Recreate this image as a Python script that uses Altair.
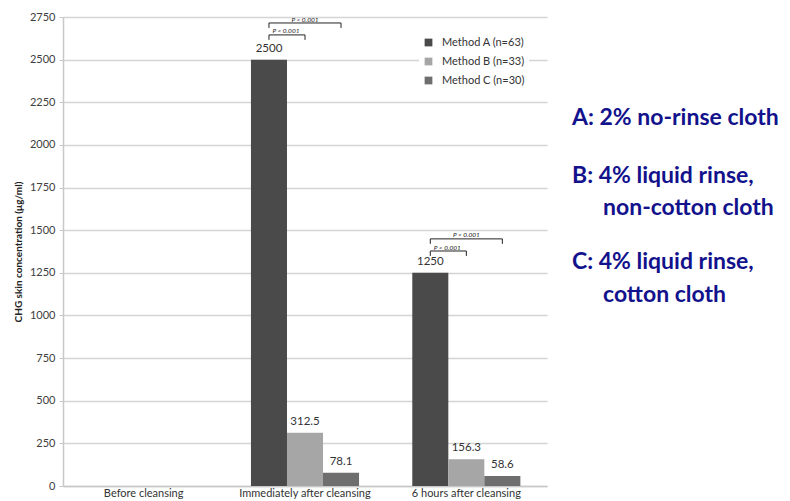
import altair as alt
import pandas as pd

categories = ["Before cleansing", "Immediately after cleansing", "6 hours after cleansing"]
methods = ["Method A (n=63)", "Method B (n=33)", "Method C (n=30)"]
colors = ["#4a4a4a", "#a6a6a6", "#6e6e6e"]
immediate_vals = [2500, 312.5, 78.1]
six_hour_vals = [1250, 156.3, 58.6]
y_ticks = list(range(0, 2751, 250))

# significance brackets: (category, start method, end method, top value, leg value, text value)
brackets = [
    ("Immediately after cleansing", 0, 2, 2715, 2686, 2735),
    ("Immediately after cleansing", 0, 1, 2645, 2616, 2665),
    ("6 hours after cleansing", 0, 2, 1449, 1420, 1469),
    ("6 hours after cleansing", 0, 1, 1378, 1349, 1398),
]
p_text = "P < 0.001"

legend_lines = [
    ("A: 2% no-rinse cloth", 0),
    ("B: 4% liquid rinse,", 0),
    ("non-cotton cloth", 1),
    ("C: 4% liquid rinse,", 0),
    ("cotton cloth", 1),
]

rows = []
for cat, vals in [(categories[1], immediate_vals), (categories[2], six_hour_vals)]:
    for m, v in zip(methods, vals):
        rows.append({"cat": cat, "method": m, "value": v, "label": f"{v:g}"})
df = pd.DataFrame(rows)

brows = []
trows = []
for i, (cat, s, e, top, leg, tv) in enumerate(brackets):
    pts = [(methods[s], leg), (methods[s], top), (methods[e], top), (methods[e], leg)]
    for k, (m, v) in enumerate(pts):
        brows.append({"cat": cat, "method": m, "value": v, "id": i, "ord": k})
    trows.append({"cat": cat, "method": methods[(s + e) // 2] if (s + e) % 2 == 0 else methods[s],
                  "value": tv, "shift": 0 if (s + e) % 2 == 0 else 1, "t": p_text})
bdf = pd.DataFrame(brows)
tdf = pd.DataFrame(trows)

FONT = "Lato"
x_enc = alt.X("cat:N", sort=categories,
              scale=alt.Scale(domain=categories, paddingInner=0.33, paddingOuter=0.165),
              axis=alt.Axis(title=None, labelAngle=0, ticks=False, labelPadding=1,
                            labelFontSize=11, labelColor="#333333", labelFont=FONT,
                            domainColor="#c8c8c8", domainWidth=1.5, grid=False))
xo_enc = alt.XOffset("method:N", sort=methods, scale=alt.Scale(domain=methods))
y_scale = alt.Scale(domain=[0, 2750], nice=False)

bars = alt.Chart(df).mark_bar().encode(
    x=x_enc,
    xOffset=xo_enc,
    y=alt.Y("value:Q", scale=y_scale,
            axis=alt.Axis(values=y_ticks, format="d", title="CHG skin concentration (μg/ml)",
                          titleFontSize=10, titleFont=FONT, titleFontWeight="bold",
                          titleColor="#222222", titlePadding=6,
                          labelFontSize=11, labelFont=FONT, labelColor="#404040",
                          labelPadding=4, tickSize=4, tickColor="#c8c8c8",
                          domainColor="#c8c8c8", domainWidth=1.5,
                          gridColor="#d4d4d4", gridWidth=1.5)),
    color=alt.Color("method:N", sort=methods,
                    scale=alt.Scale(domain=methods, range=colors),
                    legend=alt.Legend(title=None, orient="none", legendX=356, legendY=16,
                                      fillColor="white", padding=4, symbolType="square",
                                      symbolSize=60, symbolStrokeWidth=0, labelFontSize=11,
                                      labelFont=FONT, labelColor="#333333", rowPadding=7,
                                      labelOffset=8)),
)

labels = alt.Chart(df).mark_text(dy=-11, fontSize=11.5, font=FONT, color="#333333").encode(
    x=alt.X("cat:N", sort=categories),
    xOffset=alt.XOffset("method:N", sort=methods),
    y="value:Q",
    text="label:N",
)

bracket_lines = alt.Chart(bdf).mark_line(color="#222222", strokeWidth=1).encode(
    x=alt.X("cat:N", sort=categories),
    xOffset=alt.XOffset("method:N", sort=methods),
    y="value:Q",
    detail="id:N",
    order="ord:Q",
)

ptext_center = alt.Chart(tdf[tdf["shift"] == 0]).mark_text(
    fontSize=6.5, font=FONT, fontStyle="italic", color="#222222").encode(
    x=alt.X("cat:N", sort=categories),
    xOffset=alt.XOffset("method:N", sort=methods),
    y="value:Q", text="t:N")
ptext_shift = alt.Chart(tdf[tdf["shift"] == 1]).mark_text(
    fontSize=6.5, font=FONT, fontStyle="italic", color="#222222", dx=17).encode(
    x=alt.X("cat:N", sort=categories),
    xOffset=alt.XOffset("method:N", sort=methods),
    y="value:Q", text="t:N")

note_layers = []
ys = [101, 159, 191, 245, 278]
for (txt, indent), yy in zip(legend_lines, ys):
    note_layers.append(
        alt.Chart(pd.DataFrame({"t": [txt]})).mark_text(
            align="left", baseline="middle", fontSize=23, font=FONT, fontWeight="bold",
            color="#12128c").encode(
            x=alt.value(509 + 31 * indent), y=alt.value(yy), text="t:N")
    )

chart = alt.layer(bars, labels, bracket_lines, ptext_center, ptext_shift, *note_layers).properties(
    width=484, height=469,
    autosize=alt.AutoSizeParams(type="none"),
    padding={"left": 63, "top": 17, "right": 243, "bottom": 14},
).configure_view(stroke=None)

chart.save("out.html", embed_options={"renderer": "svg", "actions": False})
